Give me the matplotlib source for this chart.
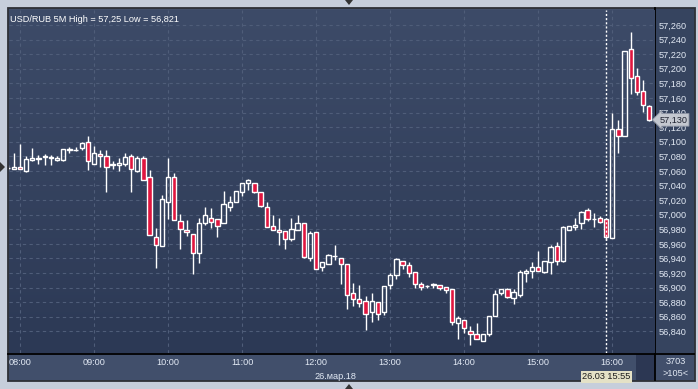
import matplotlib
matplotlib.use('Agg')
import matplotlib.pyplot as plt
import matplotlib.patches as patches
import matplotlib.transforms as mtransforms
import numpy as np

plt.rcParams['font.family'] = ['Liberation Sans', 'DejaVu Sans']

# USD/RUB 5-minute bars, 26 March 2018; bar 0 = 08:00
bar_index = list(range(-2, 103))
opens = [57.064, 57.062, 57.065, 57.060, 57.075, 57.076, 57.079, 57.077, 57.075, 57.075,
         57.088, 57.088, 57.091, 57.099, 57.070, 57.083, 57.081, 57.068, 57.068, 57.069,
         57.080, 57.060, 57.077, 57.051, 56.970, 56.957, 57.018, 57.051, 56.991, 56.979,
         56.974, 56.948, 56.988, 56.996, 56.994, 56.988, 57.011, 57.017, 57.031, 57.043,
         57.044, 57.031, 57.010, 56.985, 56.979, 56.978, 56.966, 56.979, 56.989, 56.941,
         56.976, 56.928, 56.933, 56.943, 56.941, 56.932, 56.893, 56.884, 56.881, 56.867,
         56.880, 56.866, 56.903, 56.917, 56.937, 56.931, 56.921, 56.905, 56.902, 56.904,
         56.904, 56.901, 56.898, 56.852, 56.856, 56.841, 56.837, 56.827, 56.837, 56.861,
         56.893, 56.898, 56.886, 56.890, 56.920, 56.923, 56.928, 56.922, 56.935, 56.957,
         56.936, 56.979, 56.983, 56.988, 57.006, 56.994, 56.995, 56.994, 56.968, 57.118,
         57.108, 57.227, 57.190, 57.170, 57.149]
highs = [57.068, 57.085, 57.097, 57.080, 57.092, 57.082, 57.083, 57.082, 57.080, 57.090,
         57.093, 57.093, 57.100, 57.108, 57.094, 57.089, 57.088, 57.074, 57.077, 57.085,
         57.083, 57.080, 57.080, 57.061, 56.982, 57.027, 57.078, 57.057, 57.001, 56.993,
         56.974, 56.996, 57.011, 57.009, 56.994, 57.032, 57.026, 57.032, 57.043, 57.049,
         57.044, 57.031, 57.017, 56.999, 56.995, 56.978, 56.995, 56.999, 56.989, 56.978,
         56.976, 56.935, 56.946, 56.958, 56.941, 56.932, 56.906, 56.903, 56.888, 56.892,
         56.880, 56.902, 56.920, 56.941, 56.937, 56.935, 56.921, 56.908, 56.904, 56.906,
         56.904, 56.901, 56.898, 56.861, 56.856, 56.847, 56.851, 56.837, 56.861, 56.897,
         56.898, 56.899, 56.898, 56.924, 56.926, 56.935, 56.950, 56.937, 56.958, 56.962,
         56.984, 56.985, 56.995, 57.005, 57.009, 57.002, 56.998, 56.994, 57.140, 57.130,
         57.225, 57.250, 57.201, 57.184, 57.151]
lows = [57.061, 57.062, 57.062, 57.058, 57.073, 57.070, 57.068, 57.068, 57.073, 57.073,
        57.085, 57.087, 57.088, 57.061, 57.070, 57.066, 57.031, 57.062, 57.060, 57.067,
        57.031, 57.058, 57.048, 56.972, 56.927, 56.957, 56.994, 56.993, 56.953, 56.971,
        56.919, 56.934, 56.986, 56.982, 56.969, 56.988, 57.005, 57.017, 57.026, 57.034,
        57.029, 57.011, 56.983, 56.979, 56.959, 56.953, 56.964, 56.979, 56.941, 56.937,
        56.925, 56.923, 56.932, 56.938, 56.905, 56.871, 56.875, 56.874, 56.842, 56.853,
        56.856, 56.863, 56.898, 56.912, 56.925, 56.914, 56.900, 56.897, 56.899, 56.899,
        56.897, 56.892, 56.849, 56.830, 56.838, 56.821, 56.829, 56.827, 56.834, 56.861,
        56.890, 56.886, 56.877, 56.887, 56.908, 56.913, 56.923, 56.920, 56.918, 56.931,
        56.935, 56.979, 56.979, 56.981, 56.991, 56.983, 56.988, 56.965, 56.968, 57.085,
        57.108, 57.165, 57.164, 57.141, 57.129]
closes = [57.064, 57.066, 57.062, 57.076, 57.078, 57.078, 57.081, 57.079, 57.078, 57.090,
          57.090, 57.089, 57.098, 57.073, 57.084, 57.080, 57.066, 57.070, 57.071, 57.079,
          57.062, 57.077, 57.048, 56.972, 56.958, 57.022, 57.051, 56.993, 56.980, 56.976,
          56.947, 56.989, 56.999, 56.990, 56.985, 57.014, 57.017, 57.032, 57.043, 57.047,
          57.031, 57.012, 56.983, 56.979, 56.976, 56.967, 56.981, 56.989, 56.942, 56.975,
          56.926, 56.935, 56.944, 56.943, 56.933, 56.890, 56.885, 56.879, 56.864, 56.881,
          56.864, 56.902, 56.917, 56.939, 56.931, 56.920, 56.905, 56.901, 56.902, 56.904,
          56.900, 56.896, 56.853, 56.858, 56.844, 56.837, 56.830, 56.837, 56.861, 56.891,
          56.898, 56.887, 56.894, 56.921, 56.923, 56.928, 56.923, 56.937, 56.955, 56.937,
          56.983, 56.984, 56.986, 57.003, 56.994, 56.994, 56.990, 56.969, 57.117, 57.108,
          57.225, 57.188, 57.168, 57.151, 57.130]

hour_labels = ['08:00', '09:00', '10:00', '11:00', '12:00', '13:00', '14:00', '15:00', '16:00']
price_ticks = np.round(np.arange(56.84, 57.2601, 0.02), 3)
last_price = 57.130
cursor_bar = 95

BG_TOP = '#3d4b68'
BG_BOT = '#2c3955'
STRIP = '#414f6b'
RED = '#e0163f'
TXT = '#e2e9f4'
GRID = '#4f5d79'
FS = 6.6

W, H = 698, 389
fig = plt.figure(figsize=(W / 100, H / 100), dpi=100, facecolor='#c6cedb')

# ===== frame / decoration layer (pixel coords) =====
deco = fig.add_axes([0, 0, 1, 1], zorder=0)
deco.set_xlim(0, W); deco.set_ylim(H, 0); deco.axis('off')
deco.add_patch(patches.Rectangle((7.5, 7.5), 687, 373, facecolor=STRIP,
                                 edgecolor='#2e3036', lw=1.3))
deco.add_patch(patches.Rectangle((655, 9), 39, 344, facecolor='#36445f', lw=0))
deco.add_patch(patches.Rectangle((636, 354), 19, 26, facecolor='#2c3753', lw=0))
deco.plot([655, 655], [8, 380], color='black', lw=1.3)
deco.plot([8, 694], [353.5, 353.5], color='black', lw=1.3)
for tri in ([(345, 0), (353, 0), (349, 5)],
            [(0, 162), (0, 172), (5, 167)],
            [(345, 389), (353, 389), (349, 384)]):
    deco.add_patch(patches.Polygon(tri, closed=True, color='#333333', lw=0))
deco.text(676, 362, '3703', ha='center', va='center', fontsize=FS, color=TXT)
deco.text(676, 374, '>105<', ha='center', va='center', fontsize=FS, color=TXT)

# ===== price axes =====
ax = fig.add_axes([9 / W, (H - 353) / H, (655 - 9) / W, (353 - 10) / H], zorder=1)
ax.set_xlim(-1.78, 102.92)
ax.set_ylim(56.8103, 57.2806)
grad = np.linspace(0, 1, 256).reshape(-1, 1)
cmap = matplotlib.colors.LinearSegmentedColormap.from_list('bg', [BG_TOP, BG_BOT])
ax.imshow(grad, cmap=cmap, aspect='auto', extent=[0, 1, 0, 1],
          transform=ax.transAxes, zorder=0)

# grid
for p in price_ticks:
    ax.axhline(p, color=GRID, lw=0.8, ls=(0, (3, 3)), zorder=1)
for i in range(len(hour_labels)):
    ax.axvline(i * 12, color=GRID, lw=0.8, ls=(0, (3, 3)), zorder=1)

# candles
bw = 0.7
for x, o, h, l, c in zip(bar_index, opens, highs, lows, closes):
    top, bot = max(o, c), min(o, c)
    ax.vlines(x, top, h, color='white', lw=1, zorder=2)
    ax.vlines(x, l, bot, color='white', lw=1, zorder=2)
    down = c < o
    ax.bar(x, max(top - bot, 0.0006), bottom=bot, width=bw,
           color=RED if down else 'none', edgecolor='white', lw=1, zorder=3)

# cursor at 15:55
ax.axvline(cursor_bar, color='white', lw=1, ls=(0, (1.5, 1.5)), zorder=4)

ax.yaxis.tick_right()
ax.set_yticks(price_ticks)
ax.set_yticklabels([f'{p:.3f}'.replace('.', ',') for p in price_ticks])
ax.set_xticks([i * 12 for i in range(len(hour_labels))])
ax.set_xticklabels(hour_labels)
ax.tick_params(axis='both', length=0, colors=TXT, labelsize=FS)
ax.tick_params(axis='y', pad=2.5)
ax.tick_params(axis='x', pad=3.5)
for s in ax.spines.values():
    s.set_visible(False)

ax.text(0.002, 0.985, 'USD/RUB 5M High = 57,25 Low = 56,821', transform=ax.transAxes,
        ha='left', va='top', fontsize=FS, color='white')

# current price tag
ax.annotate(f'{last_price:.3f}'.replace('.', ','), xy=(1.0, last_price),
            xycoords=('axes fraction', 'data'), xytext=(3, 0), textcoords='offset points',
            ha='left', va='center', fontsize=FS, color='#1e2230', annotation_clip=False,
            bbox=dict(boxstyle='larrow,pad=0.2', fc='#c3c7cf', ec='#8c93a3', lw=0.6),
            zorder=6)

# date under 12:00 and cursor time box
trans = mtransforms.blended_transform_factory(ax.transData, ax.transAxes)
ax.text(47.7, -0.069, '26.мар.18', transform=trans, ha='left', va='center',
        fontsize=FS, color=TXT, clip_on=False)
ax.text(cursor_bar, -0.069, '26.03 15:55', transform=trans, ha='center', va='center',
        fontsize=FS, color='#1c1c1c', clip_on=False,
        bbox=dict(boxstyle='square,pad=0.15', fc='#e4e1c6', ec='none'))

plt.savefig('out.png', dpi=100, facecolor=fig.get_facecolor())
